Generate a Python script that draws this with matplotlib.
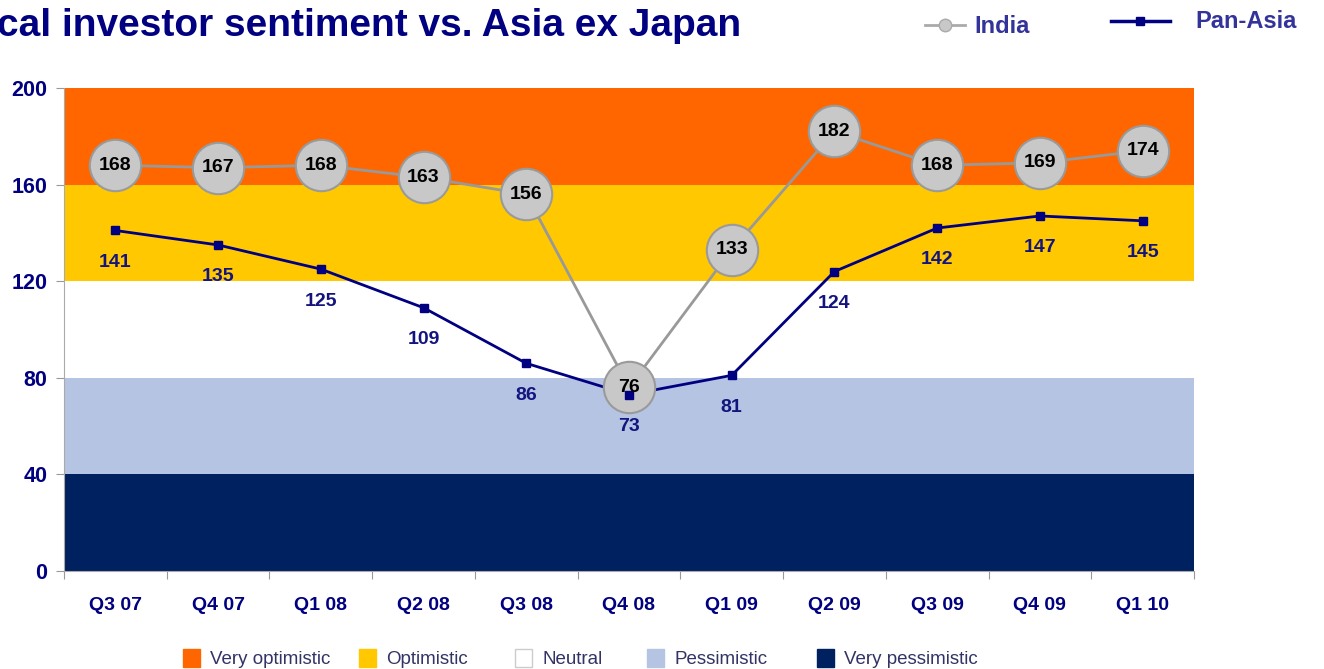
import numpy as np
import matplotlib.pyplot as plt
from matplotlib.patches import Rectangle
from matplotlib.lines import Line2D

plt.rcParams['font.family'] = ['Liberation Sans', 'DejaVu Sans']

quarters = ["Q3 07", "Q4 07", "Q1 08", "Q2 08", "Q3 08", "Q4 08",
            "Q1 09", "Q2 09", "Q3 09", "Q4 09", "Q1 10"]
india = [168, 167, 168, 163, 156, 76, 133, 182, 168, 169, 174]
pan_asia = [141, 135, 125, 109, 86, 73, 81, 124, 142, 147, 145]

band_names = ["Very optimistic", "Optimistic", "Neutral", "Pessimistic", "Very pessimistic"]
band_lo = [160, 120, 80, 40, 0]
band_hi = [200, 160, 120, 80, 40]
band_colors = ["#FF6600", "#FFC800", "#FFFFFF", "#B4C4E2", "#00215F"]

navy = "#000080"

fig = plt.figure(figsize=(13.24, 6.69), dpi=100)
ax = fig.add_axes([0.0483, 0.1465, 0.8535, 0.722])

x = np.arange(len(quarters))

for lo, hi, c in zip(band_lo, band_hi, band_colors):
    ax.axhspan(lo, hi, color=c, zorder=0, lw=0)

ax.plot(x, pan_asia, color=navy, lw=2, zorder=2)
ax.plot(x, india, color="#999999", lw=2, zorder=3)
ax.plot(x, india, ls="none", marker="o", ms=37, mfc="#C8C8C8", mec="#9A9A9A",
        mew=1.5, zorder=4)
ax.plot(x, pan_asia, ls="none", marker="s", ms=6, color=navy, zorder=5)

for xi, v in zip(x, india):
    ax.text(xi, v, str(v), ha="center", va="center", fontsize=14,
            fontweight="bold", color="black", zorder=6)
for xi, v in zip(x, pan_asia):
    ax.annotate(str(v), (xi, v), xytext=(0, -23), textcoords="offset points",
                ha="center", va="center", fontsize=14, fontweight="bold",
                color="#14147F", zorder=6)

ax.set_xlim(-0.5, len(quarters) - 0.5)
ax.set_ylim(0, 200)
ax.set_yticks([0, 40, 80, 120, 160, 200])
ax.set_xticks(np.arange(len(quarters) + 1) - 0.5)
ax.set_xticklabels([])
ax.set_xticks(x, minor=True)
ax.set_xticklabels(quarters, minor=True)
ax.tick_params(axis="x", which="minor", length=0, pad=19, labelsize=14,
               labelcolor=navy)
ax.tick_params(axis="x", which="major", length=6, color="#999999")
ax.tick_params(axis="y", length=6, color="#999999", labelsize=15.5,
               labelcolor=navy, pad=6)
for lab in ax.get_xticklabels(minor=True) + ax.get_yticklabels():
    lab.set_fontweight("bold")
for s in ["top", "right"]:
    ax.spines[s].set_visible(False)
for s in ["left", "bottom"]:
    ax.spines[s].set_color("#AAAAAA")

fig.text(-0.002, 0.961, "cal investor sentiment vs. Asia ex Japan", ha="left",
         va="center", fontsize=28, fontweight="bold", color=navy)

# top legend
fig.add_artist(Line2D([0.699, 0.729], [0.963, 0.963], color="#AAAAAA", lw=2))
fig.add_artist(Line2D([0.714], [0.963], marker="o", ms=9, mfc="#C8C8C8",
                      mec="#AAAAAA", color="#AAAAAA"))
fig.text(0.736, 0.961, "India", ha="left", va="center", fontsize=17,
         fontweight="bold", color="#333399")
fig.add_artist(Line2D([0.839, 0.884], [0.968, 0.968], color=navy, lw=2.5))
fig.add_artist(Line2D([0.861], [0.968], marker="s", ms=6, color=navy))
fig.text(0.903, 0.968, "Pan-Asia", ha="left", va="center", fontsize=17,
         fontweight="bold", color="#333399")

# bottom legend
leg_x = [0.138, 0.271, 0.389, 0.489, 0.617]
for lx, name, c in zip(leg_x, band_names, band_colors):
    fig.add_artist(Rectangle((lx, 0.003), 0.0128, 0.027, transform=fig.transFigure,
                             facecolor=c, edgecolor="#CCCCCC" if c == "#FFFFFF" else c,
                             lw=1))
    fig.text(lx + 0.0205, 0.014, name, ha="left", va="center", fontsize=13.5,
             color="#333366")

fig.savefig("out.png", dpi=100)
